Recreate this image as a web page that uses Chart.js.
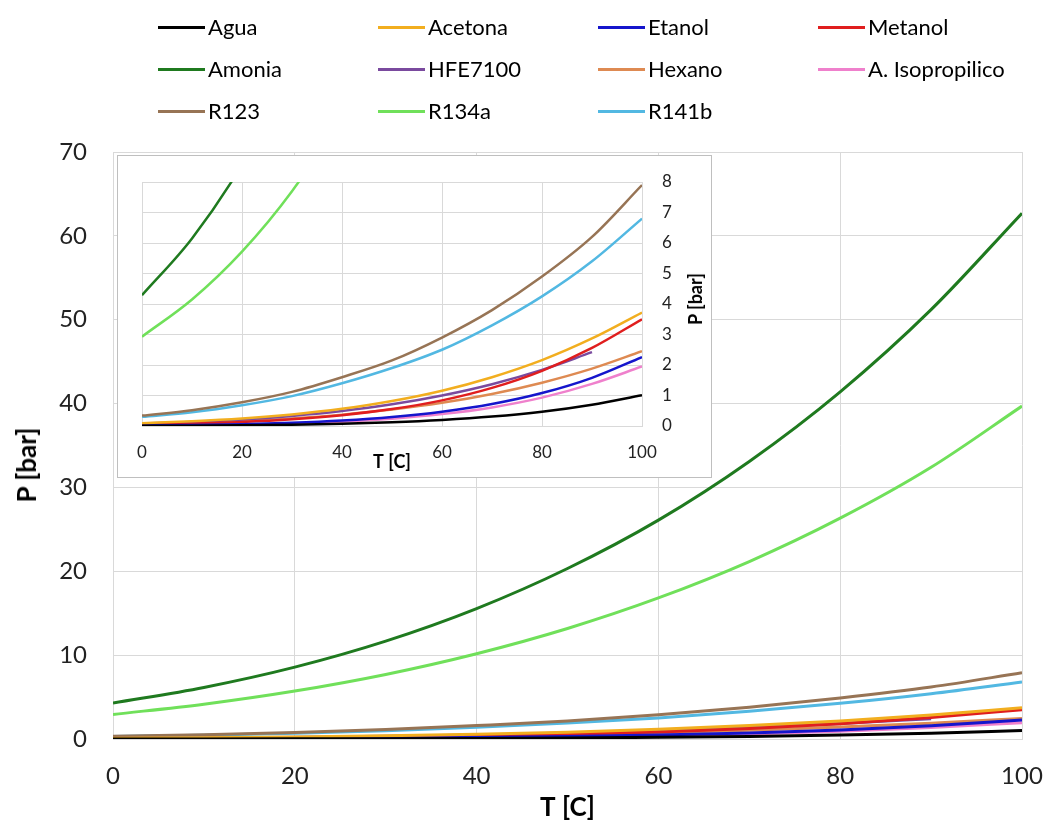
<!DOCTYPE html>
<html><head><meta charset="utf-8">
<script src="https://cdn.jsdelivr.net/npm/chart.js@4"></script>
<style>
html,body{margin:0;padding:0;background:#fff;}
#wrap{position:relative;width:1043px;height:823px;overflow:hidden;font-family:Lato,'Open Sans',sans-serif;}
#main{position:absolute;left:0;top:0;}
#insetBox{position:absolute;left:117px;top:155px;width:593px;height:321px;border:1px solid #bfbfbf;background:#fff;}
#inset{position:absolute;left:0;top:0;}
.li{position:absolute;font-size:22px;color:#000;display:flex;align-items:center;white-space:nowrap;height:26px;line-height:26px;}
.sw{display:inline-block;width:47px;height:3px;margin-right:3px;}
.rot{position:absolute;font-weight:bold;color:#000;white-space:nowrap;transform:translate(-50%,-50%) rotate(-90deg);}
#insetYTitle{left:577px;top:143px;font-size:18px;}
#mainYTitle{left:26px;top:465px;font-size:26px;}
</style></head>
<body>
<div id="wrap">
  <canvas id="main" width="1043" height="823"></canvas>
  <div id="mainYTitle" class="rot">P [bar]</div>
  <div id="insetBox">
    <canvas id="inset" width="593" height="321"></canvas>
    <div id="insetYTitle" class="rot">P [bar]</div>
  </div>
  <div id="legend"></div>
</div>
<script>
// Temperature [C]
const T = [0,10,20,30,40,50,60,70,80,90,100];
const names = ['Agua','Acetona','Etanol','Metanol','Amonia','HFE7100','Hexano','A. Isopropilico','R123','R134a','R141b'];
const colors = ['#000000','#f2ae1f','#1515cc','#e01e1e','#1f7a1f','#7a4a9e','#de8a52','#ef80cc','#977455','#70e05a','#52b8e2'];
// Vapour pressure [bar]
const agua     = [0.006,0.012,0.023,0.042,0.074,0.124,0.20,0.31,0.47,0.70,1.01];
const acetona  = [0.093,0.156,0.246,0.378,0.563,0.817,1.155,1.60,2.16,2.87,3.72];
const etanol   = [0.016,0.031,0.059,0.105,0.18,0.295,0.47,0.72,1.08,1.58,2.26];
const metanol  = [0.04,0.074,0.13,0.219,0.354,0.554,0.84,1.25,1.81,2.56,3.50];
const amonia   = [4.29,6.15,8.57,11.67,15.55,20.33,26.1,33.1,41.4,51.2,62.7];
const hfe7100  = [0.08,0.13,0.21,0.33,0.49,0.71,1.0,1.37,1.84,2.42,null];
const hexano   = [0.061,0.101,0.162,0.25,0.373,0.54,0.76,1.05,1.42,1.88,2.45];
const isoprop  = [0.0115,0.024,0.044,0.08,0.14,0.24,0.39,0.61,0.93,1.38,1.95];
const r123     = [0.34,0.52,0.78,1.12,1.6,2.15,2.9,3.8,4.9,6.2,7.9];
const r134a    = [2.93,4.15,5.72,7.70,10.17,13.18,16.82,21.16,26.33,32.4,39.7];
const r141b    = [0.3,0.45,0.68,0.98,1.4,1.9,2.5,3.3,4.25,5.4,6.8];
const series = [agua,acetona,etanol,metanol,amonia,hfe7100,hexano,isoprop,r123,r134a,r141b];
const mainYTicks = [0,10,20,30,40,50,60,70];
const insetYTicks = [0,1,2,3,4,5,6,7,8];

// legend
const leg = document.getElementById('legend');
const colX = [158,378,598,818], rowY = [27,69,111];
names.forEach((n,i)=>{
  const d = document.createElement('div'); d.className='li';
  d.style.left = colX[i%4]+'px'; d.style.top = (rowY[Math.floor(i/4)]-13)+'px';
  d.innerHTML = '<span class="sw" style="background:'+colors[i]+'"></span><span>'+n+'</span>';
  leg.appendChild(d);
});

function makeDatasets(w){
  return names.map((n,i)=>({
    label:n,
    data:T.map((t,j)=>({x:t,y:series[i][j]})),
    borderColor:colors[i], backgroundColor:colors[i],
    borderWidth:w, pointRadius:0, cubicInterpolationMode:'monotone', spanGaps:false, fill:false
  }));
}
const FONT = "Lato, 'Open Sans', sans-serif";
const grid = '#d9d9d9';
const fitX = h => s => { s.height = h; s.paddingLeft = 0; s.paddingRight = 0; };
const fitY = w => s => { s.width = w; s.paddingTop = 0; s.paddingBottom = 0; };

new Chart(document.getElementById('main'),{
  type:'line',
  data:{datasets:makeDatasets(3)},
  options:{
    responsive:false, animation:false, events:[],
    layout:{padding:{left:0,right:21,top:152,bottom:0}},
    plugins:{legend:{display:false},tooltip:{enabled:false}},
    scales:{
      x:{type:'linear',min:0,max:100,
        ticks:{stepSize:20,font:{family:FONT,size:24},color:'#222',padding:23},
        grid:{color:grid,drawTicks:false,lineWidth:1},border:{color:grid},
        title:{display:true,text:'T [C]',font:{family:FONT,size:26,weight:'bold'},color:'#000',padding:{top:0,bottom:0}},
        afterFit:fitX(84)
      },
      y:{type:'linear',min:0,max:70,
        afterBuildTicks:s=>{s.ticks=mainYTicks.map(v=>({value:v}));},
        ticks:{font:{family:FONT,size:24},color:'#222',padding:26},
        grid:{color:grid,drawTicks:false,lineWidth:1},border:{color:grid},
        afterFit:fitY(113)
      }
    }
  }
});

new Chart(document.getElementById('inset'),{
  type:'line',
  data:{datasets:makeDatasets(2.5)},
  options:{
    responsive:false, animation:false, events:[],
    layout:{padding:{left:24,right:0,top:26,bottom:0}},
    plugins:{legend:{display:false},tooltip:{enabled:false}},
    scales:{
      x:{type:'linear',min:0,max:100,
        ticks:{stepSize:20,font:{family:FONT,size:17},color:'#222',padding:16},
        grid:{color:grid,drawTicks:false},border:{color:grid},
        title:{display:true,text:'T [C]',font:{family:FONT,size:18,weight:'bold'},color:'#000',padding:{top:0,bottom:4}},
        afterFit:fitX(51)
      },
      y:{type:'linear',position:'right',min:0,max:8,
        afterBuildTicks:s=>{s.ticks=insetYTicks.map(v=>({value:v}));},
        ticks:{font:{family:FONT,size:17},color:'#222',padding:20},
        grid:{color:grid,drawTicks:false},border:{color:grid},
        afterFit:fitY(69)
      }
    }
  }
});
</script>
</body></html>
